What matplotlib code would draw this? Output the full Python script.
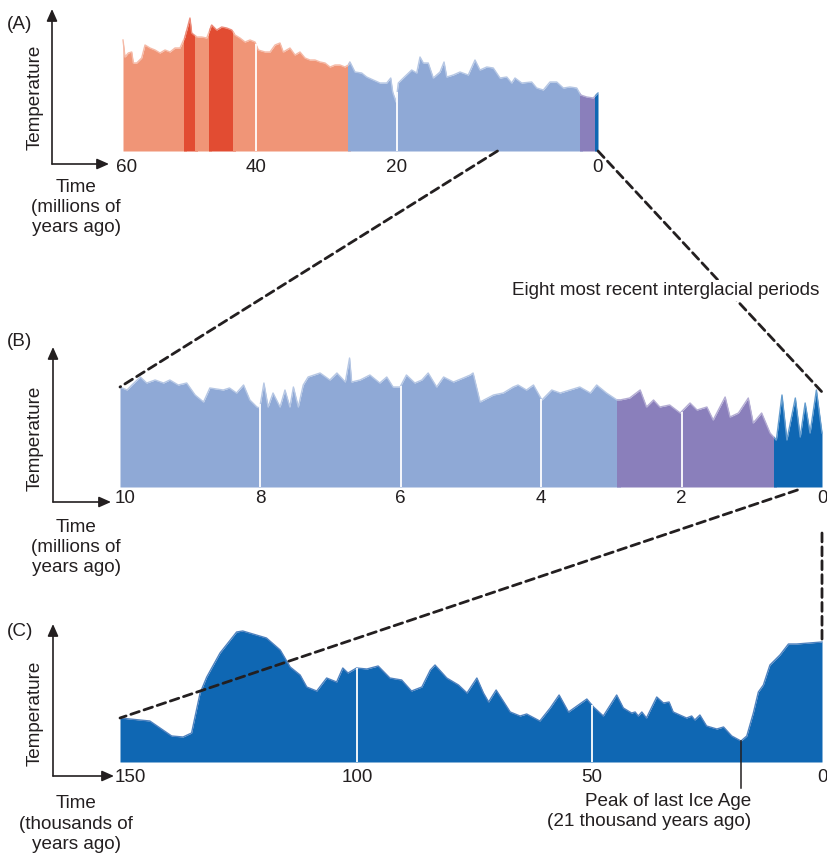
import numpy as np
import matplotlib
matplotlib.use("Agg")
import matplotlib.pyplot as plt
from matplotlib.patches import ConnectionPatch, FancyArrowPatch, Rectangle
from matplotlib.colors import to_rgb

plt.rcParams["font.family"] = ["Liberation Sans", "DejaVu Sans"]

# ---------------------------------------------------------------- data
# (A) last 60 million years: time (Myr ago) and relative temperature
a_myr = [60.0, 59.70, 59.20, 58.69, 58.45, 57.94, 57.19, 56.69, 55.94, 55.19,
         54.44, 53.68, 52.93, 52.18, 51.43, 50.68, 49.93, 49.67, 48.92, 48.17,
         47.41, 46.66, 45.91, 45.16, 44.41, 43.65, 43.16, 42.41, 41.65, 40.90,
         40.15, 39.67, 38.72, 38.01, 37.30, 36.60, 36.13, 35.18, 34.47, 33.76,
         33.05, 32.34, 31.63, 30.92, 30.21, 29.50, 28.79, 28.09, 27.38, 26.91,
         26.67, 25.96, 25.01, 24.30, 23.36, 22.41, 21.46, 20.89, 20.61, 20.14,
         19.87, 19.37, 18.54, 18.04, 17.71, 17.38, 16.89, 16.39, 15.72, 15.32,
         15.05, 14.40, 13.73, 12.91, 12.24, 11.74, 11.07, 10.42, 9.75, 9.08,
         8.59, 8.26, 7.59, 6.60, 6.10, 5.44, 4.78, 4.11, 3.45, 2.79,
         2.12, 1.72, 1.12, 0.47, 0.0]
a_temp = [111, 94, 98, 99, 88, 88, 93, 106, 103, 101,
          98, 101, 99, 103, 103, 114, 133, 118, 114, 114,
          113, 126, 121, 124, 123, 121, 116, 113, 109, 111,
          109, 101, 99, 99, 106, 108, 99, 103, 96, 99,
          93, 91, 91, 89, 88, 84, 86, 86, 84, 86,
          89, 79, 78, 74, 71, 68, 68, 73, 59, 49,
          68, 73, 81, 78, 94, 88, 88, 73, 79, 89,
          74, 76, 79, 76, 91, 81, 84, 83, 73, 74,
          68, 73, 68, 69, 63, 61, 69, 69, 63, 64,
          63, 56, 54, 53, 58]
a_periods = [(60.0, 50.7, "warm"), (50.7, 49.0, "hot"), (49.0, 46.9, "warm"),
             (46.9, 43.3, "hot"), (43.3, 26.8, "warm"), (26.8, 1.72, "cool"),
             (1.72, 0.2, "ice"), (0.2, 0.0, "glacial")]
a_ticks = [60, 40, 20, 0]
a_grid = [40, 20]

# (B) last 10 million years
b_myr = [10.0, 9.90, 9.83, 9.71, 9.62, 9.50, 9.38, 9.29, 9.17, 9.05,
         8.93, 8.81, 8.72, 8.53, 8.44, 8.34, 8.24, 8.15, 8.05, 8.01,
         7.95, 7.89, 7.82, 7.72, 7.65, 7.58, 7.53, 7.46, 7.39, 7.32,
         7.15, 7.01, 6.91, 6.79, 6.73, 6.70, 6.58, 6.44, 6.30, 6.20,
         6.11, 6.01, 5.92, 5.80, 5.70, 5.61, 5.49, 5.39, 5.25, 5.11,
         5.01, 4.97, 4.87, 4.68, 4.54, 4.40, 4.33, 4.21, 4.11, 3.99,
         3.85, 3.73, 3.59, 3.45, 3.30, 3.21, 3.07, 2.92, 2.88, 2.74,
         2.59, 2.50, 2.40, 2.31, 2.17, 2.02, 1.88, 1.78, 1.64, 1.55,
         1.38, 1.31, 1.19, 1.05, 0.98, 0.86, 0.74, 0.65, 0.57, 0.50,
         0.38, 0.31, 0.24, 0.17, 0.08, 0.00]
b_temp = [100, 97, 102, 110, 104, 107, 104, 107, 102, 104,
          92, 85, 99, 97, 99, 94, 102, 87, 80, 79,
          104, 80, 94, 80, 97, 80, 100, 80, 102, 110,
          114, 107, 114, 105, 129, 105, 107, 112, 104, 110,
          100, 100, 112, 104, 107, 114, 100, 110, 105, 109,
          112, 114, 85, 92, 94, 100, 102, 97, 102, 87,
          97, 94, 97, 100, 94, 102, 94, 87, 87, 89,
          97, 80, 87, 80, 82, 74, 84, 77, 80, 67,
          90, 70, 74, 89, 64, 74, 54, 47, 92, 47,
          89, 50, 84, 54, 97, 54]
b_periods = [(10.0, 2.9, "cool"), (2.9, 0.67, "ice"), (0.67, 0.0, "glacial")]
b_ticks = [10, 8, 6, 4, 2, 0]
b_grid = [8, 6, 4, 2]

# (C) last 150 thousand years
c_kyr = [150, 143.7, 139.1, 136.7, 134.9, 133.1, 131.7, 128.9, 125.4, 124.1,
         119.1, 116.2, 114.1, 112.0, 110.6, 108.5, 106.4, 104.3, 103.0, 101.9,
         100.1, 97.9, 95.5, 93.0, 90.5, 88.4, 86.2, 84.4, 83.4, 80.9,
         78.4, 76.6, 74.5, 73.1, 72.0, 70.4, 67.4, 65.3, 63.9, 61.1,
         58.9, 57.0, 55.0, 51.1, 49.7, 47.8, 45.2, 43.9, 42.3, 41.6,
         41.0, 40.3, 39.4, 37.4, 36.1, 35.0, 34.2, 32.9, 31.6, 30.6,
         30.0, 29.0, 27.7, 25.7, 24.4, 22.8, 21.0, 19.5, 17.8, 16.5,
         15.2, 13.5, 10.9, 8.7, 6.6, 0]
c_temp = [44, 41, 26, 25, 29, 69, 85, 109, 130, 131,
          124, 112, 95, 87, 75, 71, 84, 80, 94, 89,
          94, 93, 96, 84, 82, 71, 75, 92, 97, 84,
          77, 69, 84, 69, 60, 72, 50, 46, 48, 41,
          54, 67, 50, 63, 55, 46, 67, 54, 49, 50,
          46, 50, 44, 65, 59, 60, 50, 47, 44, 46,
          42, 47, 36, 33, 35, 26, 21, 26, 49, 70,
          77, 97, 107, 118, 118, 120]
c_periods = [(150.0, 0.0, "glacial")]
c_ticks = [150, 100, 50, 0]
c_grid = [100, 50]
ICE_AGE_PEAK_KYR = 21

COLORS = {"warm": "#F09577", "hot": "#E24C32", "cool": "#8FA9D6",
          "ice": "#8A7FBB", "glacial": "#0F67B3"}
INK = "#231F20"
FS = 13.6

# ---------------------------------------------------------------- layout
W, H = 827, 856
fig = plt.figure(figsize=(W / 100, H / 100), dpi=100)


def box(left, top, right, bottom):
    return [left / W, 1 - bottom / H, (right - left) / W, (bottom - top) / H]


def fpt(x, y):
    return (x / W, 1 - y / H)


def piecewise(xp, fp):
    xp = np.asarray(xp, float)
    fp = np.asarray(fp, float)

    def f(x):
        x = np.asarray(x, float)
        y = np.interp(x, xp, fp)
        lo_slope = (fp[1] - fp[0]) / (xp[1] - xp[0])
        hi_slope = (fp[-1] - fp[-2]) / (xp[-1] - xp[-2])
        y = np.where(x < xp[0], fp[0] + (x - xp[0]) * lo_slope, y)
        y = np.where(x > xp[-1], fp[-1] + (x - xp[-1]) * hi_slope, y)
        return y
    return f


def set_piecewise_x(ax, values, positions):
    ax.set_xscale("function", functions=(piecewise(values, positions),
                                         piecewise(positions, values)))


def lighten(c, f):
    r, g, b = to_rgb(c)
    return (r + (1 - r) * f, g + (1 - g) * f, b + (1 - b) * f)


def draw_panel(ax, t, temp, periods, grid, ticks, ymax, tick_dy, first_dx,
               outline=None):
    t = np.asarray(t, float)
    temp = np.asarray(temp, float)
    span = abs(t[0] - t[-1])
    eps = span * 0.002
    for start, end, key in periods:
        clip = Rectangle((end - eps, -5), (start - end) + 2 * eps, ymax + 10,
                         transform=ax.transData)
        poly = ax.fill_between(t, 0, temp, color=COLORS[key], lw=0, zorder=2)
        poly.set_clip_path(clip)
        edge_col = outline if outline else lighten(COLORS[key], 0.35)
        line, = ax.plot(t, temp, color=edge_col, lw=1.0, zorder=2.5)
        line.set_clip_path(clip)
    tops = np.interp(grid, t[::-1], temp[::-1])
    ax.vlines(grid, 0, tops, colors="white", lw=1.3, zorder=3)
    for i, tk in enumerate(ticks):
        ax.annotate(str(tk), xy=(tk, 0), xycoords=("data", "axes fraction"),
                    xytext=(first_dx if i == 0 else 0, -tick_dy),
                    textcoords="offset pixels", ha="center", va="baseline",
                    fontsize=FS, color=INK, annotation_clip=False)
    ax.set_ylim(0, ymax)
    ax.set_axis_off()


# (A)
ax_a = fig.add_axes(box(123, 15, 598, 151))
set_piecewise_x(ax_a, [0, 20, 40, 60], [0, 201, 342, 475])
ax_a.set_xlim(60, 0)
draw_panel(ax_a, a_myr, a_temp, a_periods, a_grid, a_ticks, 136, 21, 4)

# (B)
ax_b = fig.add_axes(box(120, 350, 822, 487))
ax_b.set_xlim(10, 0)
draw_panel(ax_b, b_myr, b_temp, b_periods, b_grid, b_ticks, 137, 16, 5)

# (C)
ax_c = fig.add_axes(box(120, 625, 822, 762))
set_piecewise_x(ax_c, [0, 21, 50, 100, 150], [0, 81, 230, 465, 702])
ax_c.set_xlim(150, 0)
draw_panel(ax_c, c_kyr, c_temp, c_periods, c_grid, c_ticks, 137, 20, 10,
           outline="#4F82BF")

# Last glacial maximum marker
lgm_temp = np.interp(ICE_AGE_PEAK_KYR, c_kyr[::-1], c_temp[::-1])
ax_c.plot([ICE_AGE_PEAK_KYR, ICE_AGE_PEAK_KYR], [lgm_temp, -26], color=INK,
          lw=1.1, clip_on=False, zorder=4)
fig.text(*fpt(751, 806), "Peak of last Ice Age", ha="right", va="baseline",
         fontsize=FS, color=INK)
fig.text(*fpt(751, 826), f"({ICE_AGE_PEAK_KYR} thousand years ago)",
         ha="right", va="baseline", fontsize=FS, color=INK)

# ---------------------------------------------------------------- axes arrows
def axis_arrow(p0, p1):
    fig.add_artist(FancyArrowPatch(
        fpt(*p0), fpt(*p1), transform=fig.transFigure,
        arrowstyle="-|>,head_length=0.45,head_width=0.2", mutation_scale=16,
        lw=1.2, color=INK, shrinkA=0, shrinkB=0))


for (cx, cy), top_y, right_x in [((52, 164), 9, 109),
                                 ((53, 502), 347, 111),
                                 ((53, 776), 624, 114)]:
    axis_arrow((cx, cy), (cx, top_y))
    axis_arrow((cx, cy), (right_x, cy))

# panel letters, axis titles
for label, y in [("(A)", 29), ("(B)", 346), ("(C)", 636)]:
    fig.text(*fpt(7, y), label, ha="left", va="baseline", fontsize=FS, color=INK)

for y in [97, 438, 713]:
    fig.text(*fpt(35, y), "Temperature", rotation=90, ha="center",
             va="center", fontsize=FS, color=INK)

time_blocks = [
    (["Time", "(millions of", "years ago)"], [192, 212, 232]),
    (["Time", "(millions of", "years ago)"], [532, 552, 572]),
    (["Time", "(thousands of", "years ago)"], [808, 829, 849]),
]
for lines, ys in time_blocks:
    for txt, y in zip(lines, ys):
        fig.text(*fpt(76, y), txt, ha="center", va="baseline", fontsize=FS,
                 color=INK)

# ---------------------------------------------------------------- zoom guides
def zoom_line(ax1, xy1, ax2, xy2):
    fig.add_artist(ConnectionPatch(
        xyA=xy1, coordsA=ax1.transData, xyB=xy2, coordsB=ax2.transData,
        color=INK, lw=2.0, linestyle=(0, (3.2, 1.8)), zorder=5))


zoom_line(ax_a, (10, 0), ax_b, (10, b_temp[0]))
zoom_line(ax_a, (0, 0), ax_b, (0, 95))
zoom_line(ax_b, (0.35, -3), ax_c, (150, c_temp[0]))
zoom_line(ax_b, (0, -46), ax_c, (0, c_temp[-1]))

fig.text(*fpt(512, 295), "Eight most recent interglacial periods", ha="left",
         va="baseline", fontsize=FS, color=INK, zorder=6,
         bbox=dict(facecolor="white", edgecolor="none", pad=1.5))

fig.savefig("out.png", dpi=100)
